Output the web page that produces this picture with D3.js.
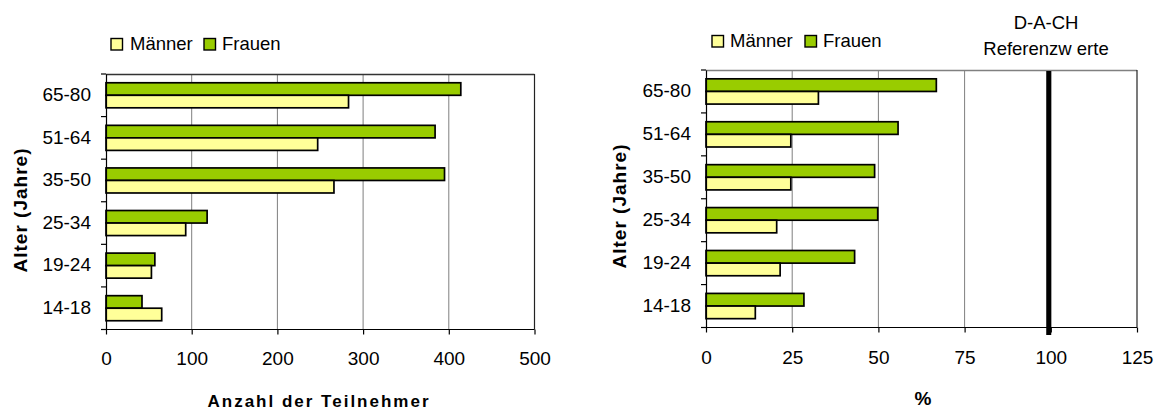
<!DOCTYPE html>
<html><head><meta charset="utf-8">
<script src="https://cdn.jsdelivr.net/npm/d3@7"></script>
<style>
body{margin:0;background:#fff;}
svg text{font-family:"Liberation Sans",Arial,sans-serif;fill:#000;}
</style></head>
<body>
<svg id="c" width="1160" height="410"></svg>
<script>
// Data
const categories = ["65-80","51-64","35-50","25-34","19-24","14-18"];
const series = ["Frauen","Männer"];
const countFrauen = [414,384,395,118,57,42];
const countMaenner = [283,247,266,93,53,65];
const pctFrauen = [66.8,55.7,48.9,49.8,43.1,28.4];
const pctMaenner = [32.6,24.6,24.6,20.5,21.5,14.3];
const leftTicks = [0,100,200,300,400,500];
const rightTicks = [0,25,50,75,100,125];
const refValue = [99.4];
const colors = {"Frauen":"#99CC00","Männer":"#FFFF99"};
const legendOrder = ["Männer","Frauen"];

const svg = d3.select("#c");
const FONT = "Liberation Sans, Arial, sans-serif";

function panel(o){
  const g = svg.append("g");
  const x = d3.scaleLinear().domain(o.domain).range([o.left,o.right]);
  const y0 = d3.scaleBand().domain(categories).range([o.top,o.bottom]).paddingInner(0).paddingOuter(0);
  const y1 = d3.scaleBand().domain(series).range([0,y0.bandwidth()]).paddingInner(0).paddingOuter(0.7);
  // grid
  g.selectAll("line.grid").data(o.ticks.slice(1,-1)).enter().append("line")
    .attr("x1",d=>x(d)).attr("x2",d=>x(d)).attr("y1",o.top).attr("y2",o.bottom)
    .attr("stroke","#7f7f7f").attr("stroke-width",1);
  // top border
  g.append("line").attr("x1",o.left).attr("x2",o.right).attr("y1",o.top+0.5).attr("y2",o.top+0.5)
    .attr("stroke",o.topColor).attr("stroke-width",1.5);
  // right border
  g.append("line").attr("x1",o.right).attr("x2",o.right).attr("y1",o.top).attr("y2",o.bottom)
    .attr("stroke","#222").attr("stroke-width",1.2);
  // bars
  const rows = categories.map((c,i)=>({c, vals:[{s:"Frauen",v:o.fr[i]},{s:"Männer",v:o.ma[i]}]}));
  const rg = g.selectAll("g.row").data(rows).enter().append("g").attr("transform",d=>`translate(0,${y0(d.c)})`);
  rg.selectAll("rect").data(d=>d.vals).enter().append("rect")
    .attr("x",x(0)).attr("y",d=>y1(d.s)).attr("width",d=>x(d.v)-x(0)).attr("height",y1.bandwidth())
    .attr("fill",d=>colors[d.s]).attr("stroke","#000").attr("stroke-width",1.7);
  // x axis
  const xa = g.append("g").attr("transform",`translate(0,${o.bottom})`)
    .call(d3.axisBottom(x).tickValues(o.ticks).tickSize(5).tickPadding(o.xPad).tickFormat(d3.format("d")));
  xa.select(".domain").attr("stroke","#000").attr("stroke-width",1.2).attr("d",`M${o.left-5},0H${o.right}`);
  xa.selectAll(".tick line").attr("stroke","#000").attr("stroke-width",1.2);
  xa.selectAll("text").attr("font-size","19px").attr("font-family",FONT);
  // y axis
  const ya = g.append("g").attr("transform",`translate(${o.left},0)`)
    .call(d3.axisLeft(y0).tickSize(0).tickPadding(15));
  ya.select(".domain").attr("stroke","#000").attr("stroke-width",1.2);
  ya.selectAll("text").attr("font-size","19px").attr("font-family",FONT).attr("dy","0.3em");
  const bounds = categories.map(c=>y0(c)).concat([o.bottom]);
  g.selectAll("line.yt").data(bounds).enter().append("line")
    .attr("x1",o.left-5).attr("x2",o.left).attr("y1",d=>d).attr("y2",d=>d)
    .attr("stroke","#000").attr("stroke-width",1.2);
  // y title
  g.append("text").attr("transform",`translate(${o.ytX},${o.ytY}) rotate(-90)`)
    .attr("text-anchor","middle").attr("font-size","19px").attr("font-weight","bold")
    .attr("letter-spacing","1px").text("Alter (Jahre)");
  // x title
  g.append("text").attr("x",o.xtX).attr("y",o.xtY).attr("text-anchor","middle")
    .attr("font-size",o.xtFS).attr("font-weight","bold").attr("letter-spacing",o.xtLS).text(o.xTitle);
  // legend
  legendOrder.forEach((s,i)=>{
    const bx = o.legBox[i];
    g.append("rect").attr("x",bx).attr("y",o.legY-11.5).attr("width",11.5).attr("height",11.5)
      .attr("fill",colors[s]).attr("stroke","#000").attr("stroke-width",1.4);
    g.append("text").attr("x",o.legText[i]).attr("y",o.legY).attr("font-size","18.5px").text(s);
  });
  return {g,x};
}

panel({left:106,right:534.5,top:74,bottom:329.5,domain:[0,500],ticks:leftTicks,fr:countFrauen,ma:countMaenner,
  topColor:"#333",xPad:17,ytX:27,ytY:210,xTitle:"Anzahl der Teilnehmer",xtX:319,xtY:407,xtLS:"2px",xtFS:"17px",
  legBox:[111,204],legText:[130,222],legY:50});

const r = panel({left:706,right:1137,top:70,bottom:327.5,domain:[0,125],ticks:rightTicks,fr:pctFrauen,ma:pctMaenner,
  topColor:"#808080",xPad:18,ytX:626,ytY:206,xTitle:"%",xtX:923,xtY:405,xtLS:"0px",xtFS:"19px",
  legBox:[712,805],legText:[730,823],legY:47});

// reference line
r.g.selectAll("line.ref").data(refValue).enter().append("line")
  .attr("x1",d=>r.x(d)).attr("x2",d=>r.x(d)).attr("y1",71).attr("y2",335)
  .attr("stroke","#000").attr("stroke-width",5);
r.g.append("text").attr("x",1046).attr("y",29).attr("text-anchor","middle").attr("font-size","18.5px").text("D-A-CH");
r.g.append("text").attr("x",1046).attr("y",55).attr("text-anchor","middle").attr("font-size","18.5px").text("Referenzw erte");
</script>
</body></html>
